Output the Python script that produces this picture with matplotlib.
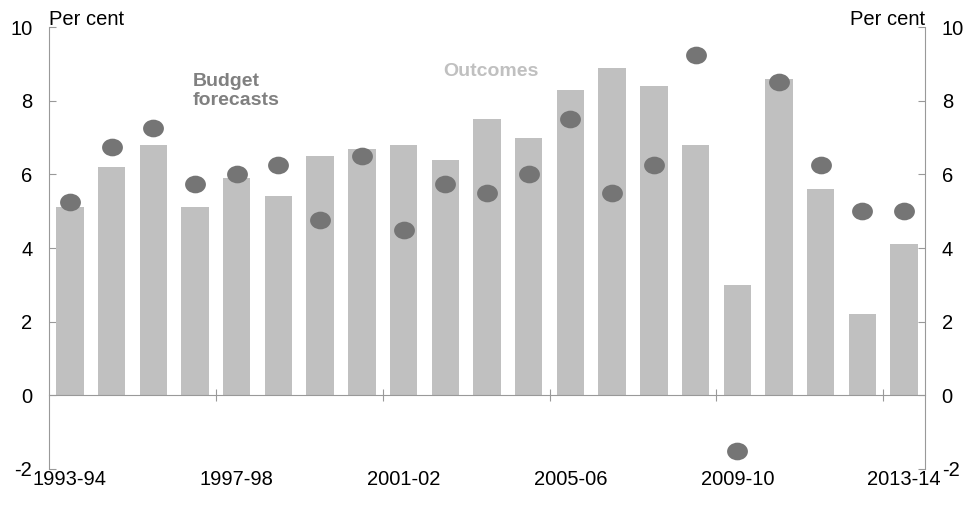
import matplotlib.pyplot as plt
import numpy as np
from matplotlib.path import Path

years = ["1993-94", "1994-95", "1995-96", "1996-97", "1997-98", "1998-99",
         "1999-00", "2000-01", "2001-02", "2002-03", "2003-04", "2004-05",
         "2005-06", "2006-07", "2007-08", "2008-09", "2009-10", "2010-11",
         "2011-12", "2012-13", "2013-14"]
outcomes = [5.1, 6.2, 6.8, 5.1, 5.9, 5.4, 6.5, 6.7, 6.8, 6.4, 7.5, 7.0,
            8.3, 8.9, 8.4, 6.8, 3.0, 8.6, 5.6, 2.2, 4.1]
forecasts = [5.25, 6.75, 7.25, 5.75, 6.0, 6.25, 4.75, 6.5, 4.5, 5.75, 5.5, 6.0,
             7.5, 5.5, 6.25, 9.25, -1.5, 8.5, 6.25, 5.0, 5.0]
label_years = ["1993-94", "1997-98", "2001-02", "2005-06", "2009-10", "2013-14"]

plt.rcParams['font.family'] = ['Liberation Sans', 'DejaVu Sans']
plt.rcParams['axes.unicode_minus'] = False

bar_col = "#c0c0c0"
dot_col = "#757575"
axis_col = "#999999"

# slightly wide ellipse marker, like the original
circ = Path.unit_circle()
ellipse = Path(circ.vertices * np.array([1.18, 1.0]), circ.codes)

fig = plt.figure(figsize=(9.71, 5.05), dpi=100)
ax = fig.add_axes([49 / 971, 1 - 469 / 505, (925 - 49) / 971, (469 - 27) / 505])

x = np.arange(len(years))
ax.bar(x, outcomes, width=0.66, color=bar_col, zorder=2)
ax.plot(x, forecasts, linestyle="none", marker=ellipse, color=dot_col,
        markersize=15, markeredgewidth=0, zorder=3)

ax.set_xlim(-0.5, len(years) - 0.5)
ax.set_ylim(-2, 10)
ax.set_yticks(range(-2, 11, 2))

ax.spines["top"].set_visible(False)
ax.spines["left"].set_color(axis_col)
ax.spines["right"].set_color(axis_col)
ax.spines["bottom"].set_color(axis_col)
ax.spines["bottom"].set_position(("data", 0))
ax.spines["bottom"].set_zorder(4)

# x ticks at category boundaries on the zero line
ax.set_xticks(np.arange(3.5, len(years), 4))
ax.tick_params(axis="x", direction="inout", length=8, color=axis_col, labelbottom=False)
ax.tick_params(axis="y", direction="in", length=5, color=axis_col, labelsize=14.5,
               right=True, labelright=True, pad=12)

# category labels at the bottom
sec = ax.secondary_xaxis("bottom")
sec.spines["bottom"].set_visible(False)
sec.set_xticks([years.index(y) for y in label_years])
sec.set_xticklabels(label_years)
sec.tick_params(length=0, labelsize=14.5, pad=1)

ax.text(0, 0.996, "Per cent", transform=ax.transAxes, fontsize=14.5, ha="left", va="bottom")
ax.text(1, 0.996, "Per cent", transform=ax.transAxes, fontsize=14.5, ha="right", va="bottom")

ax.text(2.95, 8.26, "Budget\nforecasts", fontsize=14, fontweight="bold", color="#808080",
        ha="left", va="center", linespacing=1.12)
ax.text(8.95, 8.8, "Outcomes", fontsize=14, fontweight="bold", color=bar_col,
        ha="left", va="center")

fig.savefig("out.png", dpi=100)
